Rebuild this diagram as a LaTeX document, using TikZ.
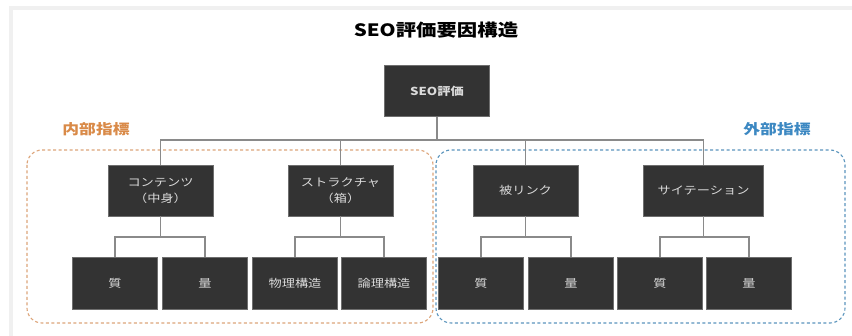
\documentclass[tikz,border=0pt]{standalone}
\usepackage{fontspec}
\newfontfamily\jp[FakeStretch=1.2]{Noto Sans CJK JP}
\definecolor{boxfill}{HTML}{333333}
\definecolor{boxline}{HTML}{6E6E6E}
\definecolor{boxtext}{HTML}{DADADA}
\definecolor{conncol}{HTML}{8A8A8A}
\definecolor{framegray}{HTML}{F0F0F0}
\definecolor{orangedash}{HTML}{DDA57A}
\definecolor{orangelab}{HTML}{D98A48}
\definecolor{bluedash}{HTML}{5B95BD}
\definecolor{bluelab}{HTML}{3C88C2}
\tikzset{
  box/.style={draw=boxline, line width=0.6pt, fill=boxfill, text=boxtext,
    inner sep=0pt, align=center, font=\jp\fontsize{11}{16}\selectfont},
  mid/.style={box, minimum width=105pt, minimum height=51pt},
  leaf/.style={box, minimum width=85pt, minimum height=52pt},
  conn/.style={draw=conncol, line width=1.3pt},
  grp/.style={line width=1.1pt, rounded corners=15pt, dash pattern=on 3pt off 2.5pt},
  lab/.style={font=\jp\bfseries\fontsize{14}{16}\selectfont, inner sep=0pt}
}
\begin{document}
\begin{tikzpicture}[x=1pt, y=-1pt]
\useasboundingbox (0,0) rectangle (852,336);
\fill[white] (0,0) rectangle (852,336);
\draw[framegray, line width=4pt] (10.5,336) -- (10.5,8) -- (852,8);

\node[font=\jp\bfseries\fontsize{17}{20}\selectfont, inner sep=0pt] (title) at (436,30) {SEO評価要因構造};

\draw[grp, orangedash] (27,150) rectangle (433,323);
\draw[grp, bluedash] (436,150) rectangle (845,323);
\node[lab, text=orangelab] (inner) at (96,129) {内部指標};
\node[lab, text=bluelab] (outer) at (777,129) {外部指標};

\node[box, minimum width=105pt, minimum height=51pt, font=\jp\bfseries\fontsize{11}{14}\selectfont] (top) at (437,91) {SEO評価};

\node[mid] (c1) at (160.5,190.5) {コンテンツ\\（中身）};
\node[mid] (c2) at (340.5,190.5) {ストラクチャ\\（箱）};
\node[mid] (c3) at (525.5,190.5) {被リンク};
\node[mid, minimum width=120pt] (c4) at (703.5,190.5) {サイテーション};

\node[leaf] (l1) at (115,283) {質};
\node[leaf] (l2) at (205,283) {量};
\node[leaf] (l3) at (295,283) {物理構造};
\node[leaf] (l4) at (384,283) {論理構造};
\node[leaf] (l5) at (481,283) {質};
\node[leaf] (l6) at (571,283) {量};
\node[leaf] (l7) at (660,283) {質};
\node[leaf] (l8) at (749,283) {量};

\coordinate (bus1) at (0,140);
\coordinate (bus2) at (0,237);

\draw[conn] (top.south) -- (top.south |- bus1);
\draw[conn] (c1.north) -- (c1.north |- bus1) -- (c4.north |- bus1) -- (c4.north);
\draw[conn] (c2.north) -- (c2.north |- bus1);
\draw[conn] (c3.north) -- (c3.north |- bus1);

\draw[conn] (c1.south) -- (c1.south |- bus2);
\draw[conn] (l1.north) -- (l1.north |- bus2) -- (l2.north |- bus2) -- (l2.north);
\draw[conn] (c2.south) -- (c2.south |- bus2);
\draw[conn] (l3.north) -- (l3.north |- bus2) -- (l4.north |- bus2) -- (l4.north);
\draw[conn] (c3.south) -- (c3.south |- bus2);
\draw[conn] (l5.north) -- (l5.north |- bus2) -- (l6.north |- bus2) -- (l6.north);
\draw[conn] (c4.south) -- (c4.south |- bus2);
\draw[conn] (l7.north) -- (l7.north |- bus2) -- (l8.north |- bus2) -- (l8.north);
\end{tikzpicture}
\end{document}
